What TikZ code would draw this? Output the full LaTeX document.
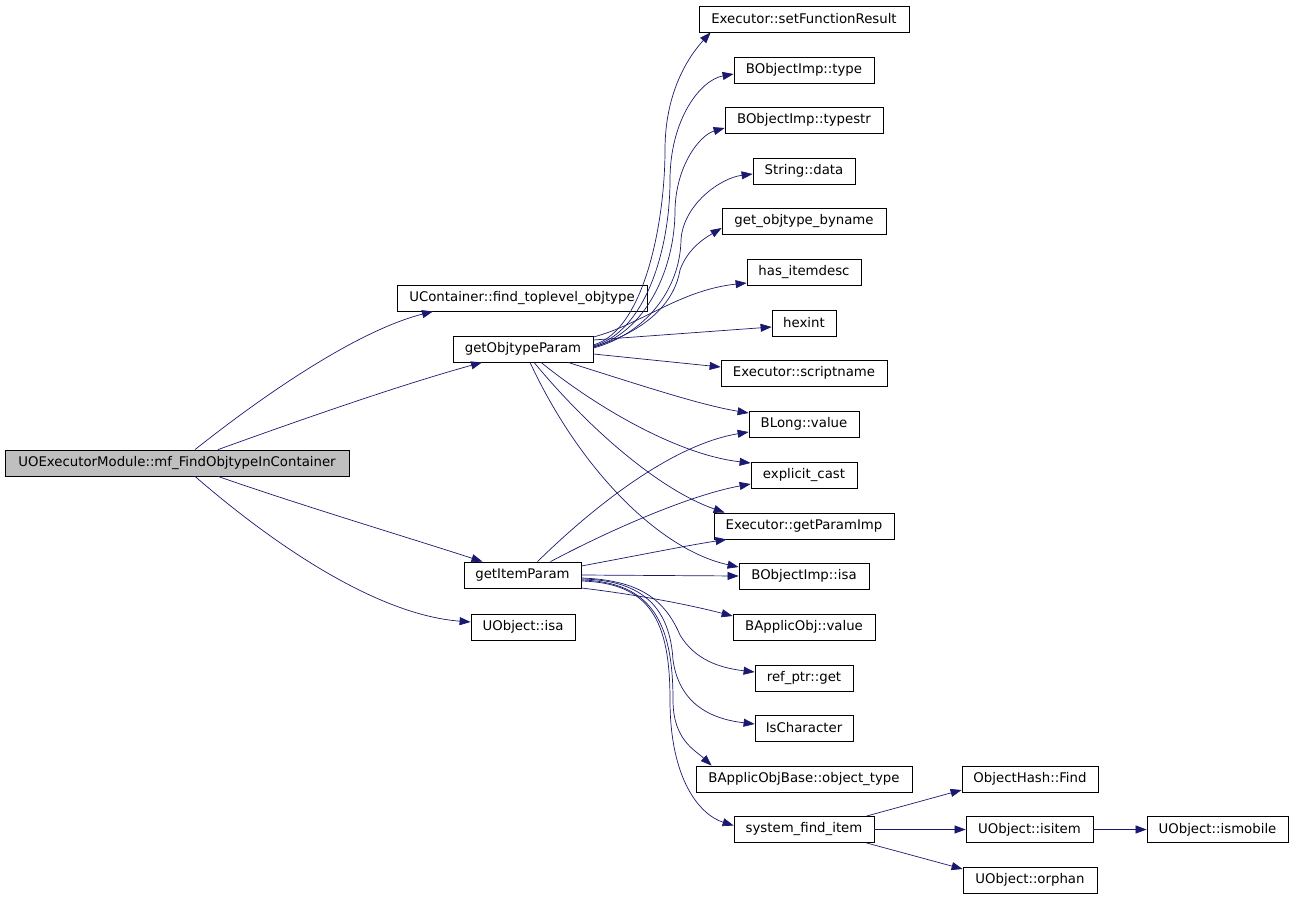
\documentclass[tikz,border=0pt]{standalone}
\usepackage{fontspec}
\setmainfont{DejaVu Sans}
\usetikzlibrary{arrows.meta}
\definecolor{edgec}{HTML}{191970}
\definecolor{rootfill}{HTML}{BFBFBF}
\begin{document}
\begin{tikzpicture}[x=1pt,y=-1pt,
  box/.style={draw=black, line width=0.8pt, minimum height=26pt, inner sep=0pt, fill=white,
    font=\fontsize{13.3}{15}\selectfont, anchor=center},
  edge/.style={draw=edgec, line width=0.7pt, -{Triangle[length=11pt,width=8pt]}}]
\useasboundingbox (0,0) rectangle (1293,899);
% nodes
\node[box, fill=rootfill, minimum width=344pt] (root) at (177,463) {UOExecutorModule::mf\_FindObjtypeInContainer};
\node[box, minimum width=250pt] (uc) at (522,298) {UContainer::find\_toplevel\_objtype};
\node[box, minimum width=140pt] (gop) at (523,349) {getObjtypeParam};
\node[box, minimum width=117pt] (gip) at (522.5,575) {getItemParam};
\node[box, minimum width=104pt] (uisa) at (523,627) {UObject::isa};
\node[box, minimum width=210pt] (sfr) at (804,19) {Executor::setFunctionResult};
\node[box, minimum width=140pt] (type) at (804,70) {BObjectImp::type};
\node[box, minimum width=158pt] (typestr) at (804,120) {BObjectImp::typestr};
\node[box, minimum width=102pt] (data) at (804,171) {String::data};
\node[box, minimum width=164pt] (gob) at (804,221) {get\_objtype\_byname};
\node[box, minimum width=114pt] (hid) at (804,272) {has\_itemdesc};
\node[box, minimum width=64pt] (hexint) at (804,323) {hexint};
\node[box, minimum width=166pt] (sn) at (804,373) {Executor::scriptname};
\node[box, minimum width=110pt] (blong) at (804,424) {BLong::value};
\node[box, minimum width=106pt] (ecast) at (804,475) {explicit\_cast};
\node[box, minimum width=180pt] (gpi) at (804,526) {Executor::getParamImp};
\node[box, minimum width=130pt] (boisa) at (804,576) {BObjectImp::isa};
\node[box, minimum width=142pt] (bav) at (804,627) {BApplicObj::value};
\node[box, minimum width=98pt] (ref) at (804,678) {ref\_ptr::get};
\node[box, minimum width=98pt] (isch) at (804,728) {IsCharacter};
\node[box, minimum width=216pt] (ot) at (804,779) {BApplicObjBase::object\_type};
\node[box, minimum width=140pt] (sfi) at (804,829.5) {system\_find\_item};
\node[box, minimum width=136pt] (ohf) at (1030,779) {ObjectHash::Find};
\node[box, minimum width=127pt] (isitem) at (1029.5,829.5) {UObject::isitem};
\node[box, minimum width=141pt] (ismob) at (1217.5,829.5) {UObject::ismobile};
\node[box, minimum width=134pt] (orphan) at (1030,880) {UObject::orphan};
% root edges
\draw[edge] ([shift={(18,0)}]root.north) .. controls (270,390) and (360,330) .. ([shift={(-89,0)}]uc.south);
\draw[edge] ([shift={(41,0)}]root.north) .. controls (300,420) and (400,385) .. ([shift={(-41,0)}]gop.south);
\draw[edge] ([shift={(41,0)}]root.south) .. controls (300,505) and (400,535) .. ([shift={(-40,0)}]gip.north);
\draw[edge] ([shift={(18,0)}]root.south) .. controls (280,550) and (380,615) .. ([shift={(0,-5)}]uisa.west);
% getObjtypeParam edges
\draw[edge] ([shift={(0,-4)}]gop.east) .. controls (645,330) and (665,220) .. (665,150) .. controls (665,90) and (690,55) .. ([shift={(12,0)}]sfr.south west);
\draw[edge] ([shift={(0,-3)}]gop.east) .. controls (645,332) and (670,250) .. (670,180) .. controls (670,120) and (700,80) .. ([shift={(0,4)}]type.west);
\draw[edge] ([shift={(0,-2)}]gop.east) .. controls (645,333) and (675,270) .. (675,210) .. controls (676,165) and (700,135) .. ([shift={(0,8)}]typestr.west);
\draw[edge] ([shift={(0,-1)}]gop.east) .. controls (645,334) and (680,290) .. (681,240) .. controls (683,205) and (720,178) .. ([shift={(0,3)}]data.west);
\draw[edge] ([shift={(0,-2)}]gop.east) .. controls (650,330) and (675,300) .. (680,270) .. controls (688,248) and (705,238) .. ([shift={(0,7)}]gob.west);
\draw[edge] ([shift={(0,-12)}]gop.east) .. controls (640,325) and (680,290) .. ([shift={(0,11)}]hid.west);
\draw[edge] ([shift={(0,-9)}]gop.east) -- ([shift={(0,4)}]hexint.west);
\draw[edge] ([shift={(0,5)}]gop.east) -- ([shift={(0,-6)}]sn.west);
\draw[edge] ([shift={(45,0)}]gop.south) .. controls (640,385) and (700,405) .. ([shift={(0,-11)}]blong.west);
\draw[edge] ([shift={(18,0)}]gop.south) .. controls (600,410) and (680,455) .. ([shift={(0,-12)}]ecast.west);
\draw[edge] ([shift={(11,0)}]gop.south) .. controls (590,430) and (660,490) .. ([shift={(11,0)}]gpi.north west);
\draw[edge] ([shift={(7,0)}]gop.south) .. controls (580,470) and (660,550) .. ([shift={(0,-9)}]boisa.west);
% getItemParam edges
\draw[edge] ([shift={(15,0)}]gip.north) .. controls (590,510) and (670,445) .. ([shift={(0,8)}]blong.west);
\draw[edge] ([shift={(28,0)}]gip.north) .. controls (610,530) and (690,495) .. ([shift={(0,9)}]ecast.west);
\draw[edge] ([shift={(0,-9)}]gip.east) .. controls (640,555) and (690,545) .. ([shift={(13,0)}]gpi.south west);
\draw[edge] (gip.east) -- (boisa.west);
\draw[edge] ([shift={(0,13)}]gip.east) .. controls (640,595) and (690,605) .. ([shift={(0,-11)}]bav.west);
\draw[edge] ([shift={(0,3)}]gip.east) .. controls (640,580) and (665,600) .. (680,635) .. controls (695,660) and (720,668) .. ([shift={(0,-6)}]ref.west);
\draw[edge] ([shift={(0,4)}]gip.east) .. controls (645,580) and (670,610) .. (673,660) .. controls (680,710) and (720,720) .. ([shift={(0,-4)}]isch.west);
\draw[edge] ([shift={(0,5)}]gip.east) .. controls (650,582) and (673,620) .. (673,700) .. controls (673,740) and (695,750) .. ([shift={(16,0)}]ot.north west);
\draw[edge] ([shift={(0,6)}]gip.east) .. controls (650,583) and (670,620) .. (670,700) .. controls (670,780) and (700,815) .. ([shift={(0,-4)}]sfi.west);
% system_find_item edges
\draw[edge] ([shift={(-8,0)}]sfi.north east) -- ([shift={(0,11)}]ohf.west);
\draw[edge] (sfi.east) -- (isitem.west);
\draw[edge] ([shift={(-8,0)}]sfi.south east) -- ([shift={(0,-11)}]orphan.west);
\draw[edge] (isitem.east) -- (ismob.west);
\end{tikzpicture}
\end{document}
